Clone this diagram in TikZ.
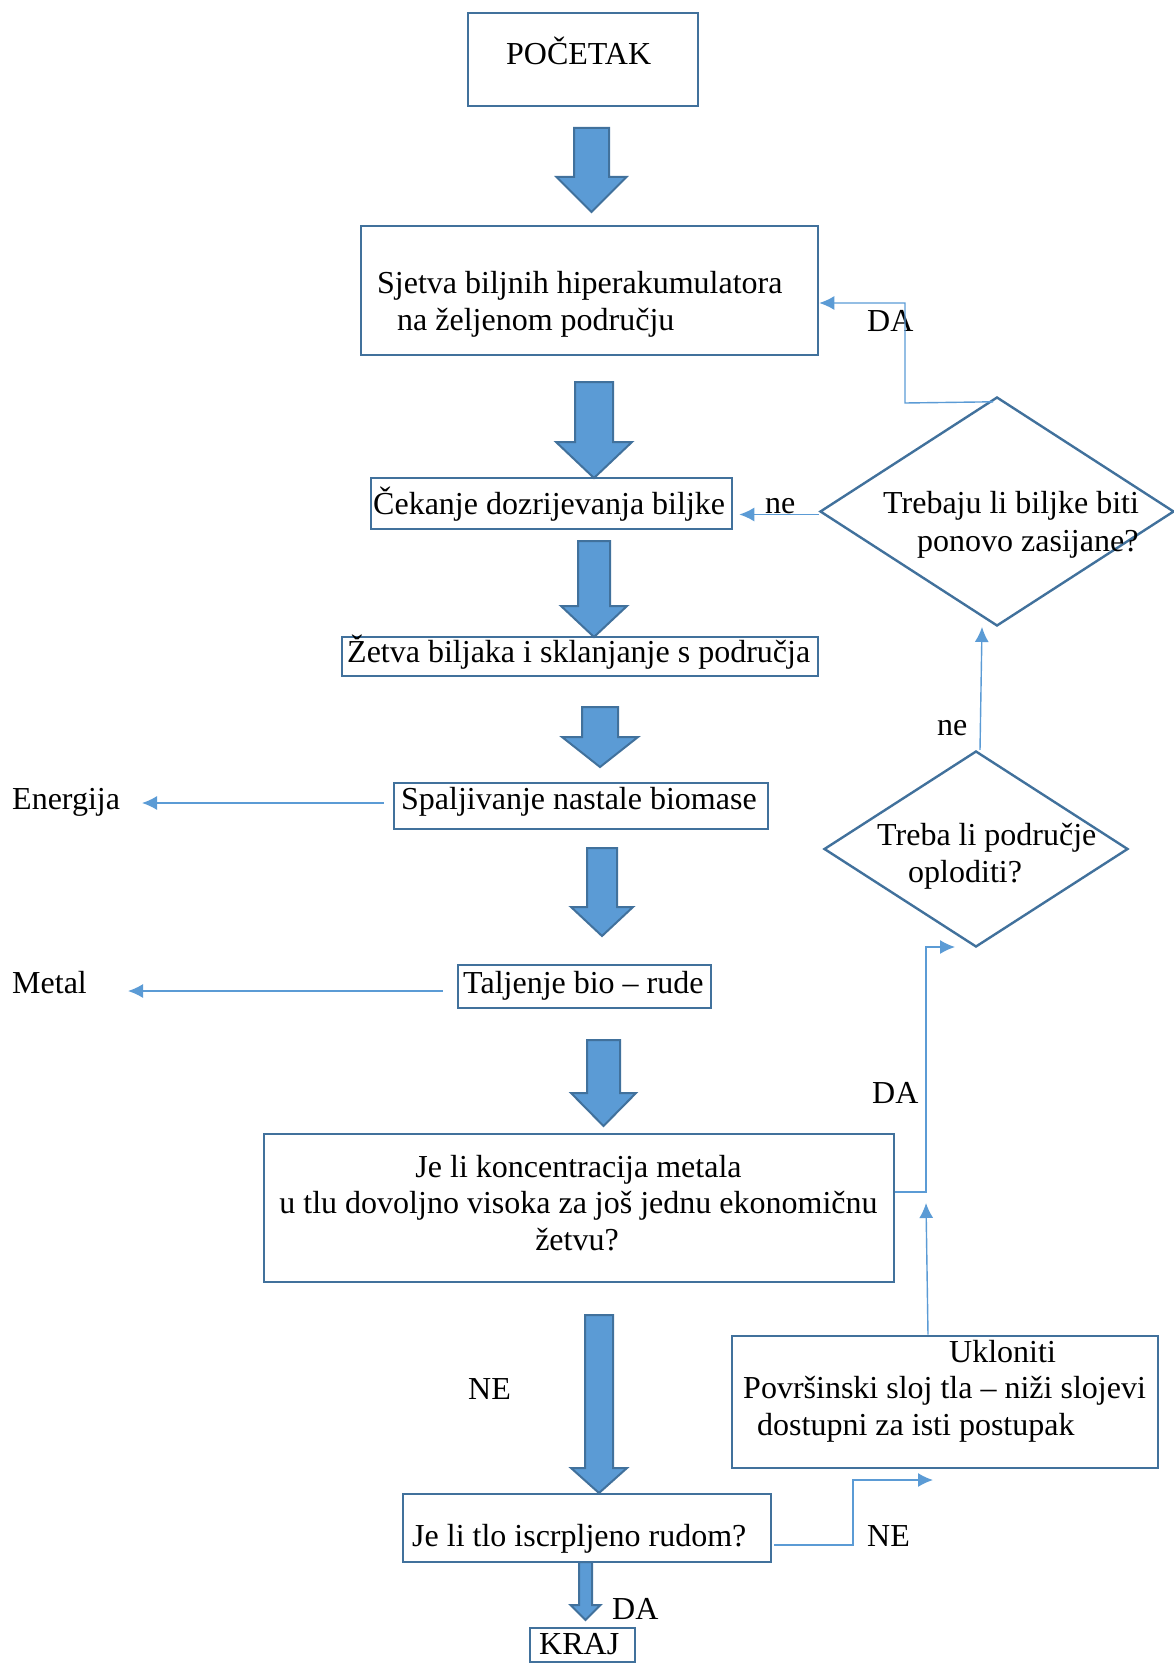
\documentclass[tikz,border=0pt]{standalone}
\usepackage{fontspec}
\setmainfont{Liberation Serif}
\usetikzlibrary{shapes.geometric,arrows.meta}
\definecolor{boxc}{RGB}{65,113,156}
\definecolor{fillc}{RGB}{91,155,213}
\definecolor{linec}{RGB}{91,155,213}
\tikzset{
  box/.style={draw=boxc, line width=2.6pt, inner sep=0pt, fill=white},
  dia/.style={draw=boxc, line width=2.4pt, shape=diamond, inner sep=0pt, fill=white},
  txt/.style={inner sep=0pt, anchor=base west, font=\fontsize{32}{37}\selectfont},
  ctxt/.style={inner sep=0pt, anchor=base, font=\fontsize{32}{37}\selectfont},
  conn/.style={draw=linec, line width=1.4pt, -{Latex[length=15pt,width=14pt]}},
  barrow/.style={draw=boxc, fill=fillc, line width=2pt, line join=miter}
}
\newcommand\blockarr[6]{%
  \filldraw[barrow] (#1-#2,#3) -- (#1+#2,#3) -- (#1+#2,#4) -- (#1+#5,#4) -- (#1,#6) -- (#1-#5,#4) -- (#1-#2,#4) -- cycle;}
\begin{document}
\begin{tikzpicture}[x=1pt,y=-1pt]
\useasboundingbox (0,0) rectangle (1174,1664);

% boxes
\node[box, minimum width=230pt, minimum height=93pt] (start) at (583,59.5) {};
\node[box, minimum width=457pt, minimum height=129pt] (sjetva) at (589.5,290.5) {};
\node[box, minimum width=361pt, minimum height=51pt] (cekanje) at (551.5,503.5) {};
\node[box, minimum width=476pt, minimum height=39pt] (zetva) at (580,656.5) {};
\node[box, minimum width=374pt, minimum height=46pt] (spalj) at (581,806) {};
\node[box, minimum width=253pt, minimum height=43pt] (talj) at (584.5,986.5) {};
\node[box, minimum width=630pt, minimum height=148pt] (konc) at (579,1208) {};
\node[box, minimum width=426pt, minimum height=132pt] (uklon) at (945,1402) {};
\node[box, minimum width=368pt, minimum height=68pt] (tlo) at (587,1528) {};
\node[box, minimum width=105pt, minimum height=34pt] (kraj) at (582.5,1645) {};

% diamonds
\node[dia, minimum width=354pt, minimum height=229pt] (d1) at (997,511.5) {};
\node[dia, minimum width=304pt, minimum height=196pt] (d2) at (976,849) {};

% block arrows
\blockarr{591.5}{17.5}{128}{177}{35}{212}
\blockarr{594}{19}{382}{442}{38}{478}
\blockarr{594}{16}{541}{606}{33}{637}
\blockarr{600}{18}{707}{737}{38}{767}
\blockarr{602}{15}{848}{907}{31}{936}
\blockarr{603.5}{16.5}{1040}{1093}{32.5}{1126}
\blockarr{599}{14}{1315}{1468}{28}{1493}
\blockarr{585.5}{6.5}{1562}{1605}{15}{1620}

% texts
\node[txt] (tstart) at (506,65) {POČETAK};
\node[txt] (tsj1) at (377,293) {Sjetva biljnih hiperakumulatora};
\node[txt] (tsj2) at (397,330) {na željenom području};
\node[txt] (tcek) at (373,514) {Čekanje dozrijevanja biljke};
\node[txt] (tne1) at (765,513) {ne};
\node[txt] (td1a) at (883,513) {Trebaju li biljke biti};
\node[txt] (td1b) at (917,551) {ponovo zasijane?};
\node[txt] (tda1) at (867,331) {DA};
\node[txt] (tzet) at (347,662) {Žetva biljaka i sklanjanje s područja};
\node[txt] (tspa) at (401,809) {Spaljivanje nastale biomase};
\node[txt] (tene) at (12,809) {Energija};
\node[txt] (tmet) at (12,993) {Metal};
\node[txt] (ttal) at (463,993) {Taljenje bio – rude};
\node[txt] (tne2) at (937,735) {ne};
\node[txt] (td2a) at (877,845) {Treba li područje};
\node[txt] (td2b) at (908,882) {oploditi?};
\node[txt] (tda2) at (872,1103) {DA};
\node[ctxt] (tk1) at (578.5,1177) {Je li koncentracija metala};
\node[ctxt] (tk2) at (578.5,1213) {u tlu dovoljno visoka za još jednu ekonomičnu};
\node[ctxt] (tk3) at (577,1250) {žetvu?};
\node[txt] (tne3) at (468,1399) {NE};
\node[txt] (tuk1) at (949,1362) {Ukloniti};
\node[txt] (tuk2) at (743,1398) {Površinski sloj tla – niži slojevi};
\node[txt] (tuk3) at (757,1435) {dostupni za isti postupak};
\node[txt] (ttlo) at (412,1546) {Je li tlo iscrpljeno rudom?};
\node[txt] (tne4) at (867,1546) {NE};
\node[txt] (tda3) at (612,1619) {DA};
\node[txt] (tkraj) at (539,1654) {KRAJ};

% thin connectors
\draw[conn] ([xshift=-4pt,yshift=-6pt]d1.north) -- (905,403) -- (905,303) -- (sjetva.east |- 0,303);
\draw[conn] ([yshift=-3pt]d1.west) -- ([xshift=6pt]cekanje.east |- 0,514.5);
\draw[conn] ([xshift=4pt]d2.north) -- (982,627);
\draw[conn] (konc.east |- 0,1192) -- (926,1192) -- (926,947) -- (955,947);
\draw[conn] ([xshift=-17pt]uklon.north) -- (926,1203);
\draw[conn] ([xshift=2pt]tlo.east |- 0,1545) -- (853,1545) -- (853,1480) -- (933,1480);
\draw[conn] ([xshift=-9pt]spalj.west |- 0,803) -- (142,803);
\draw[conn] ([xshift=-14pt]talj.west |- 0,991) -- (128,991);
\end{tikzpicture}
\end{document}
